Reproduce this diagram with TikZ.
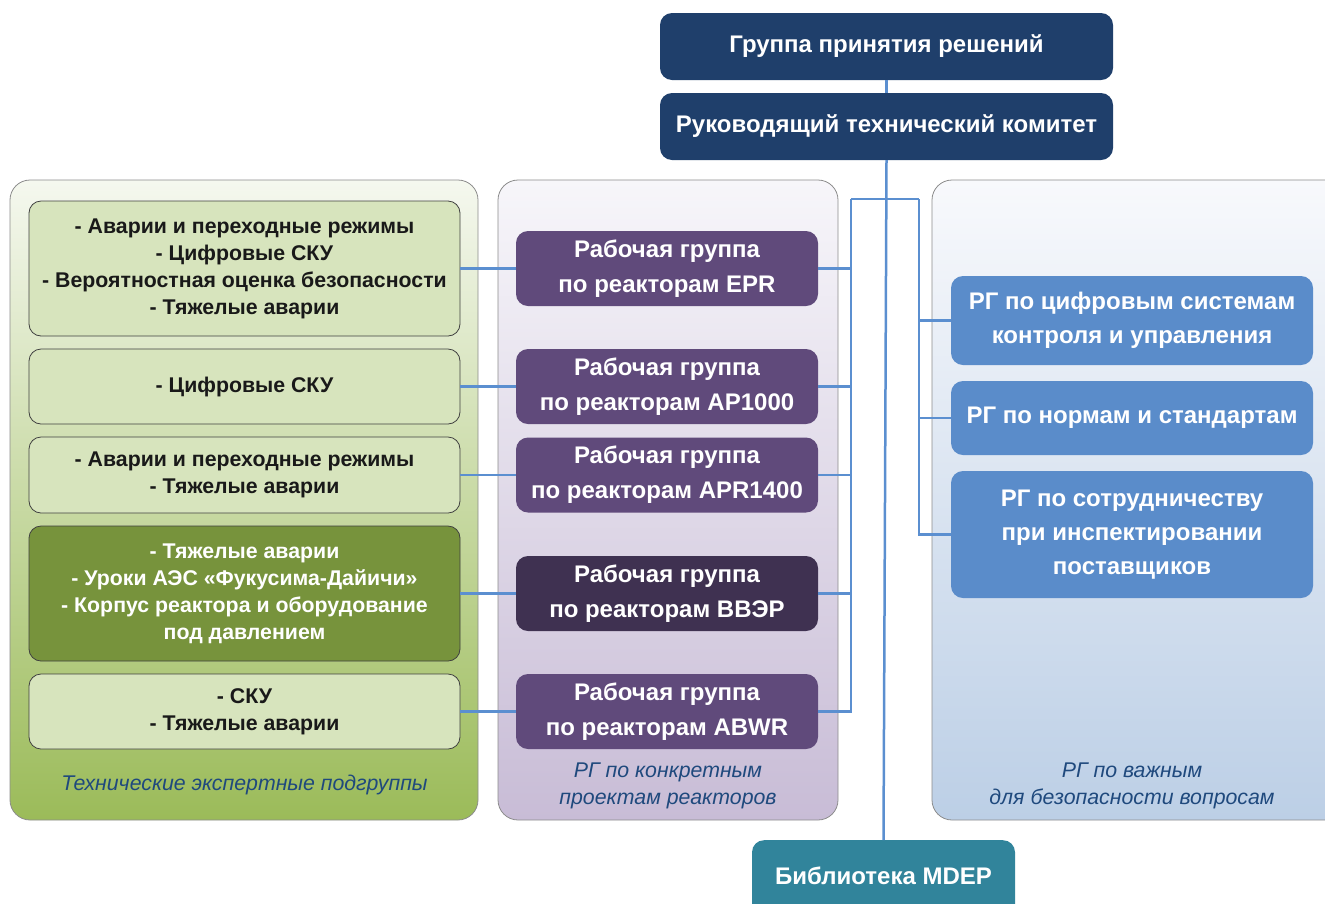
\documentclass[tikz,border=0pt]{standalone}
\usepackage{fontspec}
\setmainfont{Liberation Sans}
\usetikzlibrary{positioning}
\definecolor{navy}{HTML}{1F3F6B}
\definecolor{wgpurple}{HTML}{604A7B}
\definecolor{wgdark}{HTML}{3F3151}
\definecolor{tesgreen}{HTML}{D7E4BD}
\definecolor{tesdark}{HTML}{77933C}
\definecolor{rgblue}{HTML}{5A8CCA}
\definecolor{libteal}{HTML}{31849B}
\definecolor{linkblue}{HTML}{5B8FD0}
\definecolor{captionblue}{HTML}{1F497D}
\definecolor{greentop}{HTML}{F5F8EF}
\definecolor{greenbot}{HTML}{9BBB59}
\definecolor{violettop}{HTML}{F7F6FA}
\definecolor{violetbot}{HTML}{C8BCD6}
\definecolor{bluetop}{HTML}{F8F9FC}
\definecolor{bluebot}{HTML}{BCCFE6}

\begin{document}
\begin{tikzpicture}[x=1pt,y=-1pt,
    box/.style={rounded corners=12pt, align=center, inner sep=0pt, text=white,
      font=\fontsize{24}{35}\selectfont\bfseries},
    topbox/.style={box, fill=navy, minimum width=453pt, minimum height=67pt},
    tesbox/.style={box, fill=tesgreen, draw=black!75, line width=0.8pt, text=black!90,
      minimum width=431pt, font=\fontsize{21.3}{27}\selectfont\bfseries},
    wgbox/.style={box, fill=wgpurple, minimum width=302pt, minimum height=75pt},
    rgbox/.style={box, fill=rgblue, minimum width=362pt, font=\fontsize{24}{34}\selectfont\bfseries},
    caption/.style={align=center, text=captionblue, font=\fontsize{21.3}{27}\selectfont\itshape},
    panel/.style={rounded corners=20pt, draw=black!45, line width=0.8pt},
    link/.style={draw=linkblue, line width=2.5pt}]
  \useasboundingbox (0,0) rectangle (1325,903);
  \clip (0,0) rectangle (1325,903);

  % Background panels
  \shadedraw[panel, top color=greentop, bottom color=greenbot] (10,180) rectangle (478,820);
  \shadedraw[panel, top color=violettop, bottom color=violetbot] (498,180) rectangle (838,820);
  \shadedraw[panel, top color=bluetop, bottom color=bluebot] (932,180) rectangle (1345,820);

  % Management
  \node[topbox] (gpr) at (886.5,46.5) {Группа принятия решений};
  \node[topbox] (rtk) at (886.5,126.5) {Руководящий технический комитет};
  \node[box, fill=libteal, minimum width=263pt, minimum height=80pt, anchor=north] (lib)
    at (883.5,840) {\raisebox{10pt}{Библиотека MDEP}};

  % Technical expert subgroups
  \node[tesbox, minimum height=135pt] (tes1) at (244.5,268.5)
    {- Аварии и переходные режимы\\- Цифровые СКУ\\- Вероятностная оценка безопасности\\- Тяжелые аварии};
  \node[tesbox, minimum height=75pt] (tes2) at (244.5,386.5) {- Цифровые СКУ};
  \node[tesbox, minimum height=76pt] (tes3) at (244.5,475)
    {- Аварии и переходные режимы\\- Тяжелые аварии};
  \node[tesbox, minimum height=135pt, fill=tesdark, text=white] (tes4) at (244.5,593.5)
    {- Тяжелые аварии\\- Уроки АЭС «Фукусима-Дайичи»\\- Корпус реактора и оборудование\\под давлением};
  \node[tesbox, minimum height=75pt] (tes5) at (244.5,711.5) {- СКУ\\- Тяжелые аварии};
  \node[caption] (tescap) at (244.5,785) {Технические экспертные подгруппы};

  % Design-specific working groups
  \node[wgbox] (epr) at (667,268.5) {Рабочая группа\\по реакторам EPR};
  \node[wgbox] (ap) at (667,386.5) {Рабочая группа\\по реакторам AP1000};
  \node[wgbox] (apr) at (667,475) {Рабочая группа\\по реакторам APR1400};
  \node[wgbox, fill=wgdark] (vver) at (667,593.5) {Рабочая группа\\по реакторам ВВЭР};
  \node[wgbox] (abwr) at (667,711.5) {Рабочая группа\\по реакторам ABWR};
  \node[caption] (wgcap) at (668,786) {РГ по конкретным\\проектам реакторов};

  % Issue-specific working groups
  \node[rgbox, minimum height=89pt] (dic) at (1132,320.5) {РГ по цифровым системам\\контроля и управления};
  \node[rgbox, minimum height=74pt] (cs) at (1132,418) {РГ по нормам и стандартам};
  \node[rgbox, minimum height=127pt] (vicwg) at (1132,534.5)
    {РГ по сотрудничеству\\при инспектировании\\поставщиков};
  \node[caption] (rgcap) at (1132,786) {РГ по важным\\для безопасности вопросам};

  % Connectors
  \coordinate (splitL) at (851,199);
  \coordinate (splitR) at (919,199);
  \draw[link] (gpr.south) -- (rtk.north);
  \draw[link] (rtk.south) -- (lib.north);
  \draw[link] (splitL) -- (splitR);
  \draw[link] (splitL) |- (abwr.east);
  \draw[link] (splitR) |- (vicwg.west);
  \draw[link] (epr.east) -- (epr.east -| splitL);
  \draw[link] (ap.east) -- (ap.east -| splitL);
  \draw[link] (apr.east) -- (apr.east -| splitL);
  \draw[link] (vver.east) -- (vver.east -| splitL);
  \draw[link] (dic.west) -- (dic.west -| splitR);
  \draw[link] (cs.west) -- (cs.west -| splitR);
  \draw[link] (tes1.east) -- (epr.west);
  \draw[link] (tes2.east) -- (ap.west);
  \draw[link] (tes3.east) -- (apr.west);
  \draw[link] (tes4.east) -- (vver.west);
  \draw[link] (tes5.east) -- (abwr.west);
\end{tikzpicture}
\end{document}
